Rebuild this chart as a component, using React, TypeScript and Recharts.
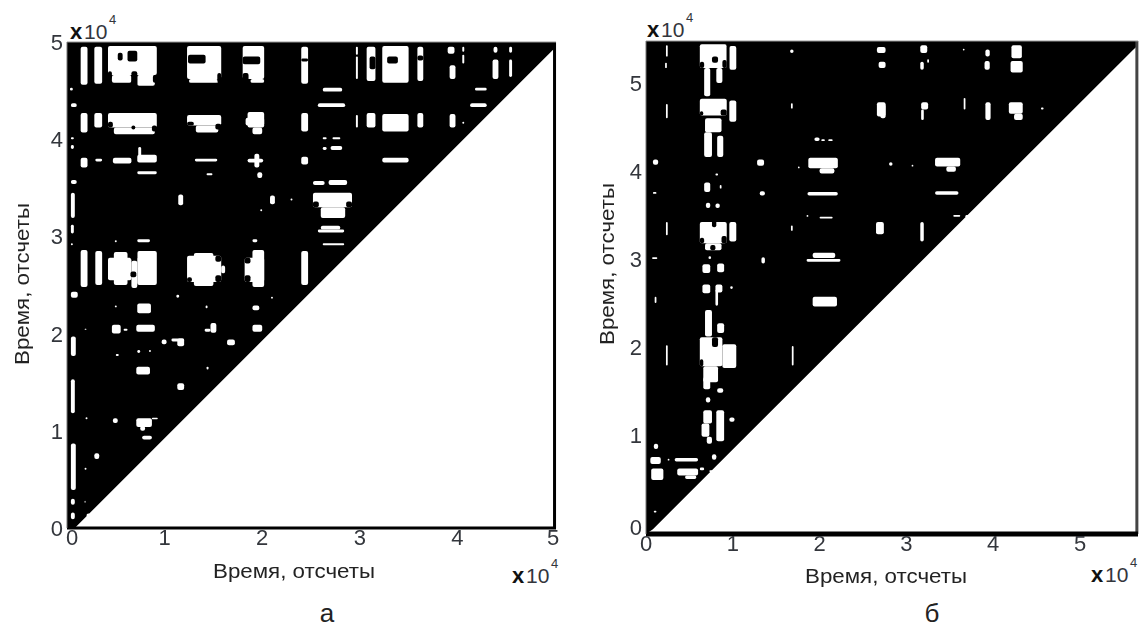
import React from 'react';
import { ComposedChart, Area, XAxis, YAxis, ReferenceArea, ReferenceLine, Label } from 'recharts';

type Patch = [number, number, number, number]; // x1, x2, y1, y2 in units of 10^4 samples

const tickValues = [0, 1, 2, 3, 4, 5];

// black part of each plot: everything above the diagonal
const leftBand = [
  { x: 0, band: [0, 5] },
  { x: 0.08, band: [0, 5] },
  { x: 4.98, band: [4.92, 5] },
  { x: 5.01, band: [4.95, 5] },
];
const rightBand = [
  { x: 0, band: [-0.125, 5.477] },
  { x: 0.08, band: [-0.07, 5.477] },
  { x: 5.61, band: [5.375, 5.477] },
  { x: 5.668, band: [5.43, 5.477] },
];

// white recurrence patches, left plot
const leftTopRow: Patch[] = [
  [0.14, 0.21, 4.56, 4.95], [0.28, 0.36, 4.57, 4.95], [0.42, 0.92, 4.66, 4.96], [0.46, 0.66, 4.58, 4.66],
  [0.72, 0.9, 4.55, 4.66], [1.23, 1.58, 4.62, 4.96], [1.25, 1.55, 4.58, 4.62], [1.8, 2.02, 4.62, 4.96],
  [1.88, 2.02, 4.58, 4.62], [2.4, 2.47, 4.57, 4.95], [3.07, 3.16, 4.6, 4.95], [3.23, 3.5, 4.58, 4.96],
  [3.59, 3.65, 4.6, 4.95], [3.92, 3.98, 4.62, 4.76], [3.9, 3.97, 4.88, 4.95], [4.05, 4.07, 4.78, 4.87],
  [4.05, 4.07, 4.9, 4.95], [4.36, 4.42, 4.62, 4.82], [4.37, 4.41, 4.89, 4.95], [4.53, 4.56, 4.64, 4.82],
  [4.53, 4.56, 4.89, 4.95], [2.96, 2.98, 4.62, 4.85], [2.96, 2.98, 4.87, 4.95],
];
const leftSecondRow: Patch[] = [
  [0.14, 0.21, 4.07, 4.27], [0.28, 0.36, 4.12, 4.27], [0.42, 0.92, 4.12, 4.27], [0.48, 0.9, 4.05, 4.12],
  [1.23, 1.58, 4.14, 4.25], [1.32, 1.55, 4.07, 4.14], [1.85, 2.02, 4.12, 4.28], [1.83, 2.02, 4.14, 4.22],
  [1.9, 2.0, 4.05, 4.12], [2.4, 2.47, 4.08, 4.27], [2.96, 2.98, 4.12, 4.25], [3.07, 3.16, 4.12, 4.27],
  [3.23, 3.5, 4.08, 4.26], [3.59, 3.65, 4.12, 4.27], [3.92, 3.98, 4.12, 4.26], [4.05, 4.07, 4.16, 4.18],
  [2.62, 2.82, 4.49, 4.53], [2.57, 2.85, 4.33, 4.37], [4.18, 4.3, 4.5, 4.53], [4.13, 4.3, 4.33, 4.37],
  [2.62, 2.66, 4.0, 4.02], [2.72, 2.8, 4.0, 4.02], [2.62, 2.66, 3.89, 3.92], [2.7, 2.82, 3.89, 3.93],
  [0.03, 0.06, 4.5, 4.53], [0.04, 0.1, 4.33, 4.37], [0.04, 0.07, 4.0, 4.02], [0.04, 0.07, 3.9, 3.94],
];
const leftThirdRow: Patch[] = [
  [0.14, 0.21, 3.71, 3.81], [0.29, 0.36, 3.77, 3.8], [0.47, 0.66, 3.75, 3.81], [0.72, 0.92, 3.76, 3.84],
  [0.73, 0.76, 3.82, 3.92], [0.72, 0.92, 3.64, 3.67], [1.31, 1.54, 3.77, 3.8], [1.43, 1.49, 3.63, 3.65],
  [1.85, 2.01, 3.76, 3.8], [1.92, 1.97, 3.71, 3.85], [1.95, 2.0, 3.6, 3.66], [2.4, 2.47, 3.74, 3.82],
  [3.23, 3.5, 3.76, 3.81], [0.04, 0.1, 3.54, 3.58], [2.52, 2.64, 3.53, 3.57], [2.68, 2.87, 3.53, 3.58],
  [2.52, 2.92, 3.3, 3.45], [2.6, 2.85, 3.19, 3.3], [2.57, 2.84, 3.04, 3.07], [2.6, 2.8, 3.07, 3.11],
  [2.62, 2.84, 2.91, 2.93], [0.04, 0.08, 3.19, 3.45], [0.04, 0.07, 3.03, 3.12], [0.04, 0.06, 2.91, 2.93],
  [1.14, 1.19, 3.32, 3.43], [2.08, 2.13, 3.33, 3.42], [2.29, 2.31, 3.37, 3.39], [1.98, 2.0, 3.26, 3.28],
  [0.72, 0.85, 2.94, 2.97], [0.49, 0.51, 2.94, 2.96], [1.9, 1.95, 2.94, 2.97],
];
const leftFourthRow: Patch[] = [
  [0.14, 0.21, 2.48, 2.86], [0.29, 0.36, 2.5, 2.85], [0.42, 0.66, 2.55, 2.78], [0.48, 0.62, 2.5, 2.84],
  [0.72, 0.92, 2.5, 2.85], [0.66, 0.72, 2.47, 2.75], [1.23, 1.58, 2.53, 2.8], [1.3, 1.5, 2.49, 2.83],
  [1.82, 2.02, 2.53, 2.78], [1.9, 2.02, 2.48, 2.86], [1.58, 1.62, 2.62, 2.7], [2.4, 2.47, 2.5, 2.85],
  [0.04, 0.11, 2.37, 2.43], [1.12, 1.15, 2.37, 2.4], [2.09, 2.11, 2.36, 2.38],
];
const leftLower: Patch[] = [
  [0.72, 0.86, 2.21, 2.31], [0.49, 0.51, 2.27, 2.29], [1.42, 1.44, 2.26, 2.29], [1.9, 1.97, 2.24, 2.29],
  [0.46, 0.55, 2.0, 2.09], [0.58, 0.62, 2.03, 2.05], [0.71, 0.9, 2.02, 2.09], [1.47, 1.53, 2.01, 2.11],
  [1.41, 1.47, 2.02, 2.05], [1.9, 2.0, 2.02, 2.09], [0.18, 0.2, 2.04, 2.05], [1.07, 1.2, 1.92, 1.95],
  [1.13, 1.2, 1.87, 1.95], [0.97, 1.02, 1.89, 1.94], [1.64, 1.72, 1.88, 1.94], [0.04, 0.09, 1.77, 1.97],
  [0.72, 0.75, 1.8, 1.83], [0.84, 0.86, 1.81, 1.83], [0.5, 0.53, 1.77, 1.79], [0.71, 0.85, 1.58, 1.66],
  [1.43, 1.45, 1.63, 1.66], [1.13, 1.2, 1.42, 1.49], [0.04, 0.08, 1.18, 1.53], [0.71, 0.87, 1.04, 1.13],
  [0.75, 0.8, 1.0, 1.05], [0.87, 0.93, 1.12, 1.135], [0.47, 0.52, 1.08, 1.13], [0.19, 0.21, 1.12, 1.14],
  [0.77, 0.87, 0.91, 0.95], [0.04, 0.09, 0.39, 0.87], [0.28, 0.33, 0.71, 0.77], [0.18, 0.2, 0.6, 0.62],
  [0.18, 0.19, 0.26, 0.28], [0.04, 0.08, 0.24, 0.3], [0.04, 0.08, 0.09, 0.16], [0.2, 0.24, 0.11, 0.15],
];
// black holes inside the patches
const leftHoles: Patch[] = [
  [0.52, 0.57, 4.81, 4.89], [0.62, 0.72, 4.8, 4.91], [0.66, 0.72, 4.55, 4.7], [1.24, 1.42, 4.78, 4.87],
  [1.8, 1.98, 4.77, 4.85], [2.4, 2.47, 4.8, 4.83], [3.28, 3.39, 4.78, 4.85], [3.59, 3.65, 4.81, 4.86],
  [0.66, 0.7, 4.1, 4.14], [0.65, 0.71, 2.58, 2.64], [0.65, 0.72, 2.76, 2.88], [3.1, 3.16, 4.72, 4.85],
  [0.42, 0.46, 4.62, 4.7], [0.88, 0.92, 4.58, 4.66], [1.54, 1.58, 4.58, 4.68], [1.8, 1.86, 4.6, 4.68],
  [0.42, 0.47, 4.12, 4.18], [0.87, 0.92, 4.08, 4.14], [1.23, 1.3, 4.14, 4.18], [1.52, 1.58, 4.1, 4.16],
  [1.23, 1.28, 2.53, 2.58], [1.52, 1.58, 2.53, 2.6], [1.52, 1.58, 2.74, 2.8], [1.82, 1.88, 2.53, 2.6],
  [1.82, 1.88, 2.72, 2.78], [2.52, 2.58, 3.3, 3.36], [2.86, 2.92, 3.3, 3.36],
];

// white recurrence patches, right plot
const rightColumn: Patch[] = [
  [0.62, 0.93, 5.17, 5.44], [0.96, 1.04, 5.15, 5.42], [0.67, 0.74, 4.85, 5.17], [0.81, 0.88, 5.0, 5.17],
  [0.62, 0.93, 4.63, 4.82], [0.68, 0.87, 4.44, 4.6], [0.96, 1.04, 4.56, 4.8], [0.67, 0.76, 4.16, 4.44],
  [0.82, 0.89, 4.16, 4.4], [0.8, 0.83, 3.95, 3.97], [0.67, 0.74, 3.76, 3.87], [0.85, 0.87, 3.8, 3.84],
  [0.69, 0.74, 3.58, 3.64], [0.8, 0.85, 3.58, 3.63], [0.62, 0.93, 3.18, 3.42], [0.68, 0.87, 3.1, 3.18],
  [0.96, 1.04, 3.2, 3.42], [0.72, 0.75, 3.0, 3.03], [0.65, 0.74, 2.84, 2.94], [0.82, 0.9, 2.85, 2.95],
  [0.65, 0.74, 2.61, 2.71], [0.8, 0.88, 2.62, 2.71], [0.97, 1.0, 2.66, 2.69], [0.8, 0.83, 2.47, 2.65],
  [0.68, 0.76, 2.12, 2.42], [0.82, 0.9, 2.16, 2.27], [0.62, 0.88, 1.78, 2.11], [0.66, 0.83, 1.6, 1.78],
  [0.88, 1.04, 1.76, 2.03], [0.66, 0.74, 1.52, 1.66], [0.82, 0.89, 1.48, 1.53], [0.69, 0.74, 1.37, 1.43],
  [0.66, 0.76, 1.13, 1.28], [0.64, 0.73, 0.98, 1.13], [0.7, 0.76, 0.9, 0.98], [0.81, 0.9, 0.93, 1.28],
  [0.96, 1.02, 1.15, 1.2],
];
const rightBars: Patch[] = [
  [1.94, 2.0, 4.34, 4.38], [2.02, 2.06, 4.34, 4.36], [2.1, 2.15, 4.34, 4.36], [1.87, 2.21, 4.03, 4.15],
  [2.0, 2.17, 3.97, 4.03], [1.86, 2.21, 3.72, 3.76], [1.85, 1.87, 3.48, 3.5], [2.0, 2.15, 3.46, 3.48],
  [1.92, 2.18, 3.01, 3.07], [1.85, 2.24, 2.97, 3.0], [1.92, 2.2, 2.46, 2.57], [3.33, 3.62, 4.05, 4.15],
  [3.46, 3.57, 3.99, 4.05], [3.33, 3.6, 3.73, 3.77], [3.54, 3.62, 3.48, 3.5], [3.68, 3.72, 3.47, 3.5],
];
const rightSpecks: Patch[] = [
  [0.23, 0.25, 5.3, 5.43], [0.22, 0.24, 5.17, 5.23], [1.66, 1.7, 5.34, 5.38], [2.66, 2.76, 5.34, 5.41],
  [2.68, 2.76, 5.17, 5.24], [0.23, 0.25, 4.6, 4.76], [1.67, 1.69, 4.71, 4.77], [2.66, 2.76, 4.62, 4.78],
  [2.7, 2.76, 4.6, 4.76], [0.08, 0.14, 4.07, 4.13], [1.28, 1.36, 4.06, 4.13], [1.75, 1.77, 4.03, 4.05],
  [0.08, 0.12, 3.74, 3.76], [1.31, 1.37, 3.72, 3.77], [0.23, 0.25, 3.27, 3.42], [1.67, 1.69, 3.32, 3.38],
  [2.65, 2.74, 3.28, 3.42], [3.16, 3.2, 3.2, 3.42], [0.07, 0.13, 3.0, 3.02], [1.33, 1.37, 2.95, 3.02],
  [0.1, 0.12, 2.5, 2.57], [0.23, 0.25, 1.79, 2.02], [1.68, 1.7, 1.79, 2.01], [0.09, 0.14, 0.84, 0.9],
  [0.05, 0.17, 0.67, 0.75], [0.06, 0.2, 0.49, 0.62], [0.25, 0.27, 0.71, 0.73], [0.33, 0.6, 0.7, 0.74],
  [0.36, 0.6, 0.54, 0.62], [0.45, 0.58, 0.5, 0.54], [0.62, 0.67, 0.6, 0.63], [0.76, 0.81, 0.72, 0.78],
  [0.73, 0.8, 0.58, 0.6], [0.09, 0.12, 0.12, 0.14],
  [3.16, 3.24, 5.34, 5.43], [3.16, 3.2, 5.15, 5.24], [3.24, 3.26, 5.23, 5.27], [3.65, 3.67, 5.37, 5.39],
  [3.91, 3.96, 5.3, 5.38], [3.9, 3.96, 5.15, 5.25], [4.21, 4.33, 5.28, 5.43], [4.2, 4.34, 5.12, 5.25],
  [3.66, 3.68, 4.7, 4.83], [3.17, 3.25, 4.7, 4.78], [3.17, 3.2, 4.58, 4.7], [3.91, 3.97, 4.58, 4.78],
  [4.18, 4.34, 4.65, 4.78], [4.24, 4.34, 4.58, 4.65], [4.55, 4.58, 4.7, 4.72], [2.8, 2.84, 4.06, 4.1],
  [3.06, 3.08, 4.05, 4.07],
];
const rightHoles: Patch[] = [
  [0.76, 0.83, 5.23, 5.3], [0.93, 0.96, 5.15, 5.44], [0.76, 0.81, 3.36, 3.46], [0.74, 0.8, 3.1, 3.16],
  [0.62, 0.67, 5.17, 5.24], [0.88, 0.93, 5.17, 5.26], [0.62, 0.66, 4.63, 4.68], [0.86, 0.93, 4.63, 4.7],
  [0.62, 0.67, 3.18, 3.24], [0.87, 0.93, 3.18, 3.26], [0.62, 0.66, 1.78, 1.86], [0.76, 0.83, 2.0, 2.11],
];

const leftPatches = [...leftTopRow, ...leftSecondRow, ...leftThirdRow, ...leftFourthRow, ...leftLower];
const rightPatches = [...rightColumn, ...rightBars, ...rightSpecks];

const FONT = '"Liberation Sans", Arial, sans-serif';
const TEXT_COLOR = '#33363c';

const makeTick = (axis: 'x' | 'y', shift: Record<number, number>) => ({ x, y, payload }: any) => {
  const s = shift[payload.value] || 0;
  return axis === 'x' ? (
    <text x={x + s} y={y + 9} textAnchor="middle" fontFamily={FONT} fontSize={22} fill={TEXT_COLOR}>{payload.value}</text>
  ) : (
    <text x={x} y={y + 8 + s} textAnchor="end" fontFamily={FONT} fontSize={22} fill={TEXT_COLOR}>{payload.value}</text>
  );
};

const xTitle = (x: number, y: number) => () => (
  <text x={x} y={y} textAnchor="middle" fontFamily={FONT} fontSize={20} fill="#222" textLength={162} lengthAdjust="spacingAndGlyphs">Время, отсчеты</text>
);
const yTitle = (x: number, y: number) => () => (
  <text x={x} y={y} textAnchor="middle" fontFamily={FONT} fontSize={20} fill="#222" textLength={162} lengthAdjust="spacingAndGlyphs" transform={`rotate(-90 ${x} ${y})`}>Время, отсчеты</text>
);

const Power = ({ x, y }: { x: number; y: number }) => (
  <g fontFamily={FONT} fill={TEXT_COLOR}>
    <text x={x} y={y} fontSize={22} fontWeight="bold" fill="#111">x</text>
    <text x={x + 14} y={y} fontSize={21}>10</text>
    <text x={x + 39} y={y - 15} fontSize={13}>4</text>
  </g>
);

const patchAreas = (patches: Patch[], fill: string, prefix: string) =>
  patches.map(([x1, x2, y1, y2], i) => (
    <ReferenceArea key={`${prefix}${i}`} x1={x1} x2={x2} y1={y1} y2={y2} fill={fill} fillOpacity={1} stroke="none" radius={2} ifOverflow="visible" />
  ));

const App: React.FC = () => (
  <div style={{ position: 'absolute', left: 0, top: 0, width: 1140, height: 630, background: '#fff', overflow: 'hidden' }}>
    <div style={{ position: 'absolute', left: 0, top: 0, filter: 'blur(0.35px)' }}>
      <ComposedChart width={570} height={630} data={leftBand} margin={{ left: 7, right: 14, top: 42, bottom: 72 }}>
        <XAxis dataKey="x" type="number" domain={[0, 5.01]} ticks={tickValues} allowDataOverflow height={30} interval={0}
          tickLine={false} axisLine={{ stroke: '#000', strokeWidth: 3 }} tick={makeTick('x', { 0: 5, 5: -2 })}>
          <Label content={xTitle(294, 578)} />
        </XAxis>
        <YAxis type="number" domain={[0, 5]} ticks={tickValues} allowDataOverflow width={60} interval={0} tickSize={0} tickMargin={4}
          tickLine={false} axisLine={{ stroke: '#777', strokeWidth: 1 }} tick={makeTick('y', {})}>
          <Label content={yTitle(29, 284)} />
        </YAxis>
        <Area type="linear" dataKey="band" stroke="none" fill="#000" fillOpacity={1} dot={false} activeDot={false} isAnimationActive={false} />
        {patchAreas(leftPatches, '#fff', 'w')}
        {patchAreas(leftHoles, '#000', 'b')}
        <ReferenceLine x={4.995} stroke="#000" strokeWidth={3} ifOverflow="visible" />
        <ReferenceLine y={5} stroke="#999" strokeWidth={1} ifOverflow="visible" />
      </ComposedChart>
    </div>
    <div style={{ position: 'absolute', left: 570, top: 0, filter: 'blur(0.35px)' }}>
      <ComposedChart width={570} height={630} data={rightBand} margin={{ left: 16, right: 2, top: 41, bottom: 66 }}>
        <XAxis dataKey="x" type="number" domain={[0, 5.668]} ticks={tickValues} allowDataOverflow height={30} interval={0}
          tickLine={false} axisLine={{ stroke: '#000', strokeWidth: 5 }} tick={makeTick('x', {})}>
          <Label content={xTitle(316, 583)} />
        </XAxis>
        <YAxis type="number" domain={[-0.125, 5.477]} ticks={tickValues} allowDataOverflow width={60} interval={0} tickSize={0} tickMargin={4}
          tickLine={false} axisLine={{ stroke: '#777', strokeWidth: 1 }} tick={makeTick('y', { 0: 4 })}>
          <Label content={yTitle(44, 264)} />
        </YAxis>
        <Area type="linear" dataKey="band" stroke="none" fill="#000" fillOpacity={1} dot={false} activeDot={false} isAnimationActive={false} />
        {patchAreas(rightPatches, '#fff', 'w')}
        {patchAreas(rightHoles, '#000', 'b')}
        <ReferenceLine x={5.655} stroke="#444" strokeWidth={3} ifOverflow="visible" />
        <ReferenceLine y={5.477} stroke="#999" strokeWidth={1} ifOverflow="visible" />
      </ComposedChart>
    </div>
    <svg width={1140} height={630} style={{ position: 'absolute', left: 0, top: 0, pointerEvents: 'none' }}>
      <Power x={70} y={39} />
      <Power x={512} y={583} />
      <Power x={647} y={37} />
      <Power x={1091} y={582} />
      <text x={327} y={622} textAnchor="middle" fontFamily={FONT} fontSize={26} fill="#222">а</text>
      <text x={932} y={622} textAnchor="middle" fontFamily={FONT} fontSize={26} fill="#222">б</text>
    </svg>
  </div>
);

export default App;
